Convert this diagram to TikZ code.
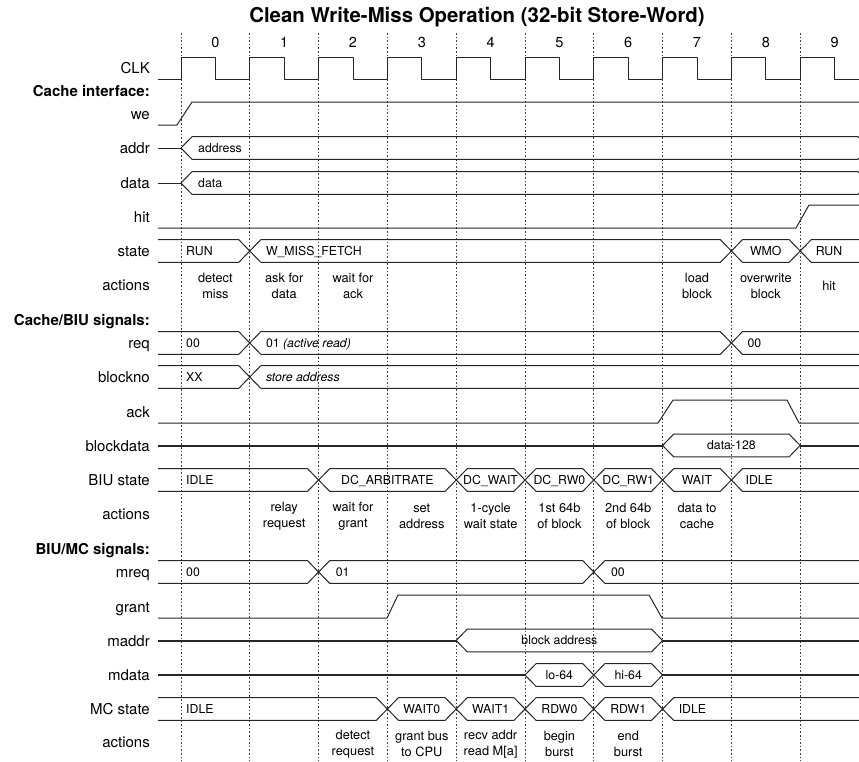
\documentclass[tikz,border=0pt]{standalone}
\usepackage{fontspec}
\setmainfont{TeX Gyre Heros}
\usetikzlibrary{positioning,calc}

\tikzset{
  sig/.style={line width=1pt, black!85, line join=round},
  hiz/.style={line width=2pt, black!85},
  grid line/.style={black!75, line width=0.8pt, dash pattern=on 1.6pt off 2pt},
  title/.style={anchor=base, font=\bfseries\fontsize{20.4}{24}\selectfont},
  num/.style={anchor=base, font=\fontsize{14.5}{17}\selectfont},
  siglabel/.style={anchor=base east, yshift=-5.8pt, inner sep=0pt, font=\fontsize{15}{18}\selectfont},
  header/.style={anchor=base east, yshift=-5pt, inner sep=0pt, font=\bfseries\fontsize{15}{18}\selectfont},
  val/.style={anchor=base west, yshift=-4.4pt, inner sep=0pt, font=\fontsize{12.3}{14}\selectfont},
  cval/.style={val, anchor=base},
  act/.style={align=center, inner sep=0pt, font=\fontsize{12.8}{15.8}\selectfont},
}

\def\xo{181}   % first rising clock edge
\def\w{68.8}   % clock period
\def\sl{11}    % width of a bus transition
\def\hh{11.3}  % half height of a bus
\def\xl{158}   % left end of all traces
\def\xr{870}   % right end, past the border
\newcommand{\tedge}[1]{\xo+\w*(#1)}
% closed bus from edge #1 to edge #2 on row #3
\newcommand{\busseg}[3]{%
  \draw[sig] ({\tedge{#1}},#3) -- ({\tedge{#1}+\sl},{#3-\hh}) -- ({\tedge{#2}-\sl},{#3-\hh})
    -- ({\tedge{#2}},#3) -- ({\tedge{#2}-\sl},{#3+\hh}) -- ({\tedge{#1}+\sl},{#3+\hh}) -- cycle;}
% bus open to the left, ends at edge #1
\newcommand{\busleft}[2]{%
  \draw[sig] (\xl,{#2-\hh}) -- ({\tedge{#1}-\sl},{#2-\hh}) -- ({\tedge{#1}},#2)
    -- ({\tedge{#1}-\sl},{#2+\hh}) -- (\xl,{#2+\hh});}
% bus open to the right, starts at edge #1
\newcommand{\busright}[2]{%
  \draw[sig] (\xr,{#2-\hh}) -- ({\tedge{#1}+\sl},{#2-\hh}) -- ({\tedge{#1}},#2)
    -- ({\tedge{#1}+\sl},{#2+\hh}) -- (\xr,{#2+\hh});}

\begin{document}
\begin{tikzpicture}[x=1pt, y=-1pt]
  \useasboundingbox (0,0) rectangle (859,761);
  \clip (0,0) rectangle (859,761);

  % Title, cycle grid and numbers
  \node[title] (title) at (477,22) {Clean Write-Miss Operation (32-bit Store-Word)};
  \foreach \i in {0,...,9} {
    \draw[grid line] ({\tedge{\i}},33) -- ({\tedge{\i}},761);
    \node[num] (n\i) at ({\tedge{\i+0.5}},47) {\i};
  }

  % Signal names
  \foreach \n/\y/\t in {lclk/68/CLK, lwe/113.5/we, laddr/148/addr, ldata/183/data,
      lhit/216.5/hit, lstate/251/state, lact1/284.5/actions, lreq/343/req,
      lblk/377/blockno, lack/411.5/ack, lbdata/445.5/blockdata, lbiu/480/BIU state,
      lact2/514/actions, lmreq/572/mreq, lgrant/606.5/grant, lmaddr/640.5/maddr,
      lmdata/675/mdata, lmc/709/MC state, lact3/742/actions}
    \node[siglabel] (\n) at (150,\y) {\t};
  \node[header] (hcache) at (150,91) {Cache interface:};
  \node[header] (hbiu) at (150,320) {Cache/BIU signals:};
  \node[header] (hmc) at (150,549.5) {BIU/MC signals:};

  % Clock
  \draw[sig] (\xl,79) -- (\xo,79)
    \foreach \i in {0,...,9} { -- ({\tedge{\i}},57) -- ({\tedge{\i+0.5}},57)
      -- ({\tedge{\i+0.5}},79) -- ({\tedge{\i+1}},79) };

  % Cache interface
  \draw[sig] (\xl,125) -- (177,125) -- (192,102) -- (\xr,102);
  \draw[sig] (\xl,148) -- (\xo,148);
  \busseg{0}{10}{148}
  \node[val] (vaddr) at ({\tedge{0}+17},148) {address};
  \draw[sig] (\xl,183) -- (\xo,183);
  \busseg{0}{10}{183}
  \node[val] (vdata) at ({\tedge{0}+17},183) {data};
  \draw[sig] (\xl,228) -- (796,228) -- (809,205) -- (\xr,205);
  \busleft{1}{251} \busseg{1}{8}{251} \busseg{8}{9}{251} \busright{9}{251}
  \node[val] (st0) at (186,251) {RUN};
  \node[val] (st1) at ({\tedge{1}+16},251) {W\_MISS\_FETCH};
  \node[cval] (st8) at ({\tedge{8.5}},251) {WMO};
  \node[cval] (st9) at (829,251) {RUN};
  \foreach \i/\t in {0/{detect\\miss}, 1/{ask for\\data}, 2/{wait for\\ack},
      7/{load\\block}, 8/{overwrite\\block}}
    \node[act] (a1-\i) at ({\tedge{\i+0.5}},286) {\t};
  \node[act] (a1-9) at (829,286) {hit};

  % Cache/BIU signals
  \busleft{1}{343} \busseg{1}{8}{343} \busright{8}{343}
  \node[val] (rq0) at (186,343) {00};
  \node[val] (rq1) at ({\tedge{1}+16},343) {01 \textit{(active read)}};
  \node[val] (rq8) at ({\tedge{8}+16},343) {00};
  \busleft{1}{377} \busright{1}{377}
  \node[val] (bn0) at (186,377) {XX};
  \node[val] (bn1) at ({\tedge{1}+16},377) {\textit{store address}};
  \draw[sig] (\xl,423) -- (658,423) -- (673,400) -- (787,400) -- (799,423) -- (\xr,423);
  \draw[hiz] (\xl,445.5) -- ({\tedge{7}},445.5);
  \busseg{7}{9}{445.5}
  \draw[hiz] ({\tedge{9}},445.5) -- (\xr,445.5);
  \node[cval] (bd7) at ({\tedge{8}},445.5) {data-128};
  \busleft{2}{480} \busseg{2}{4}{480}
  \foreach \i in {4,...,7} { \busseg{\i}{\i+1}{480} }
  \busright{8}{480}
  \node[val] (bs0) at (186,480) {IDLE};
  \node[cval] (bs2) at ({\tedge{3}},480) {DC\_ARBITRATE};
  \foreach \i/\t in {4/DC\_WAIT, 5/DC\_RW0, 6/DC\_RW1, 7/WAIT}
    \node[cval] (bs\i) at ({\tedge{\i+0.5}},480) {\t};
  \node[val] (bs8) at ({\tedge{8}+14},480) {IDLE};
  \foreach \i/\t in {1/{relay\\request}, 2/{wait for\\grant}, 3/{set\\address},
      4/{1-cycle\\wait state}, 5/{1st 64b\\of block}, 6/{2nd 64b\\of block},
      7/{data to\\cache}}
    \node[act] (a2-\i) at ({\tedge{\i+0.5}},516) {\t};

  % BIU/MC signals
  \busleft{2}{572} \busseg{2}{6}{572} \busright{6}{572}
  \node[val] (mq0) at (186,572) {00};
  \node[val] (mq2) at ({\tedge{2}+17},572) {01};
  \node[val] (mq6) at ({\tedge{6}+17},572) {00};
  \draw[sig] (\xl,618) -- (387,618) -- (398,595) -- (649,595) -- (662,618) -- (\xr,618);
  \draw[hiz] (\xl,640.5) -- ({\tedge{4}},640.5);
  \busseg{4}{7}{640.5}
  \draw[hiz] ({\tedge{7}},640.5) -- (\xr,640.5);
  \node[cval] (ma4) at ({\tedge{5.5}},640.5) {block address};
  \draw[hiz] (\xl,675) -- ({\tedge{5}},675);
  \busseg{5}{6}{675} \busseg{6}{7}{675}
  \draw[hiz] ({\tedge{7}},675) -- (\xr,675);
  \node[cval] (md5) at ({\tedge{5.5}},675) {lo-64};
  \node[cval] (md6) at ({\tedge{6.5}},675) {hi-64};
  \busleft{3}{709}
  \foreach \i in {3,...,6} { \busseg{\i}{\i+1}{709} }
  \busright{7}{709}
  \node[val] (mc0) at (186,709) {IDLE};
  \foreach \i/\t in {3/WAIT0, 4/WAIT1, 5/RDW0, 6/RDW1}
    \node[cval] (mc\i) at ({\tedge{\i+0.5}},709) {\t};
  \node[val] (mc7) at ({\tedge{7}+16},709) {IDLE};
  \foreach \i/\t in {2/{detect\\request}, 3/{grant bus\\to CPU}, 4/{recv addr\\read M[a]},
      5/{begin\\burst}, 6/{end\\burst}}
    \node[act] (a3-\i) at ({\tedge{\i+0.5}},744) {\t};
\end{tikzpicture}
\end{document}
